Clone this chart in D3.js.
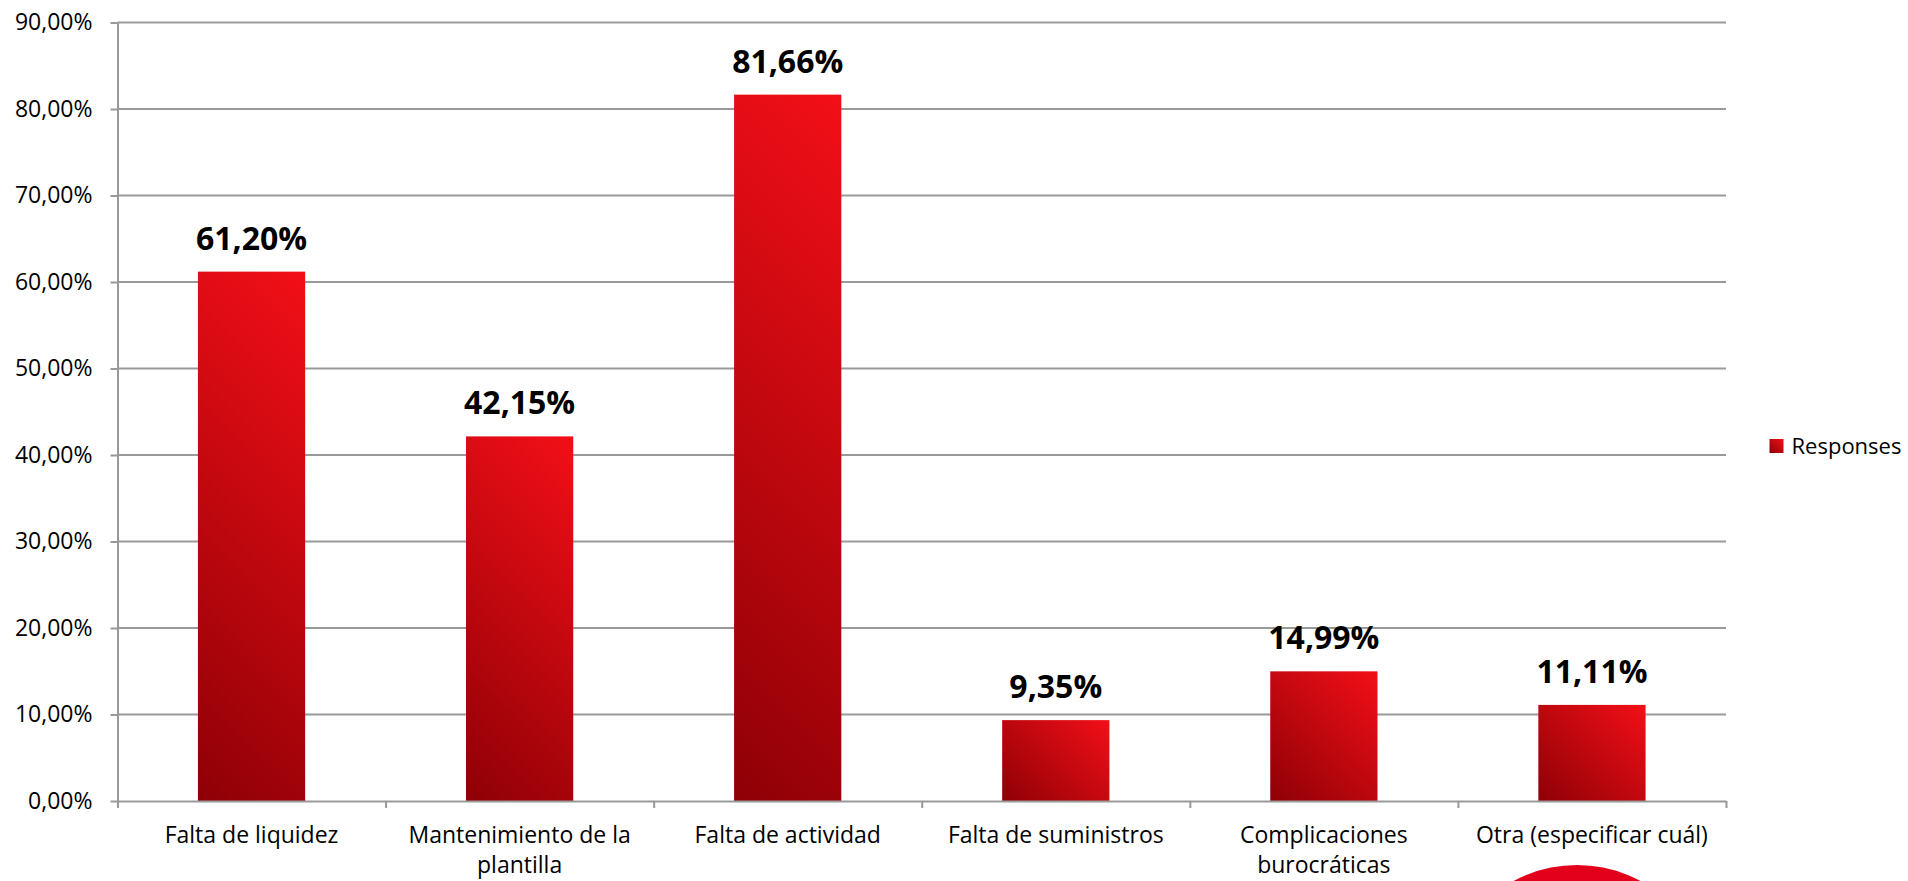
<!DOCTYPE html>
<html>
<head>
<meta charset="utf-8">
<script src="https://cdn.jsdelivr.net/npm/d3@7"></script>
<style>
  html, body { margin: 0; padding: 0; background: #fff; }
  svg { display: block; }
  text { font-family: "Open Sans", "Liberation Sans", sans-serif; fill: #000; }
</style>
</head>
<body>
<svg id="chart" width="1908" height="881"></svg>
<script>
// ---- data ----
const categories = [
  "Falta de liquidez",
  "Mantenimiento de la\nplantilla",
  "Falta de actividad",
  "Falta de suministros",
  "Complicaciones\nburocráticas",
  "Otra (especificar cuál)"
];
const values = [61.20, 42.15, 81.66, 9.35, 14.99, 11.11];
const yTicks = [0, 10, 20, 30, 40, 50, 60, 70, 80, 90];
const seriesName = "Responses";

// ---- layout ----
const W = 1908, H = 881;
const plot = { left: 117.5, right: 1726, top: 22.5, bottom: 801 };
const svg = d3.select("#chart");

const x = d3.scaleBand().domain(categories)
  .range([plot.left, plot.right]).paddingInner(0.6).paddingOuter(0.3);
const xEdges = d3.scaleLinear().domain([0, categories.length]).range([plot.left, plot.right]);
const y = d3.scaleLinear().domain([0, 90]).range([plot.bottom, plot.top]);
const fmt = v => d3.format(".2f")(v).replace(".", ",") + "%";

const gridColor = "#999999";

// gradients
const defs = svg.append("defs");
const c0 = "#8e0006", c1 = "#f30f17";
values.forEach((v, i) => {
  const bx = x(categories[i]), bw = x.bandwidth();
  const h = y(0) - y(v);
  const L = (bw + h) / 2;
  const g = defs.append("linearGradient").attr("id", "grad" + i)
    .attr("gradientUnits", "userSpaceOnUse")
    .attr("x1", bx).attr("y1", y(0))
    .attr("x2", bx + L).attr("y2", y(0) - L);
  g.append("stop").attr("offset", 0).attr("stop-color", c0);
  g.append("stop").attr("offset", 1).attr("stop-color", c1);
});
{
  const g = defs.append("linearGradient").attr("id", "gradLegend")
    .attr("x1", 0).attr("y1", 1).attr("x2", 1).attr("y2", 0);
  g.append("stop").attr("offset", 0).attr("stop-color", c0);
  g.append("stop").attr("offset", 1).attr("stop-color", c1);
}

// gridlines
svg.append("g").selectAll("line").data(yTicks.slice(1)).join("line")
  .attr("x1", plot.left).attr("x2", plot.right)
  .attr("y1", d => y(d)).attr("y2", d => y(d))
  .attr("stroke", gridColor).attr("stroke-width", 2);

// y axis
const yAxis = svg.append("g").attr("transform", `translate(${plot.left},0)`)
  .call(d3.axisLeft(y).tickValues(yTicks).tickFormat(fmt).tickSize(7).tickPadding(18).tickSizeOuter(0));
yAxis.select(".domain").attr("stroke", gridColor).attr("stroke-width", 2);
yAxis.selectAll(".tick line").attr("stroke", gridColor).attr("stroke-width", 2);
yAxis.selectAll(".tick text").attr("font-size", 23).attr("fill", "#000")
  .style("font-family", "'Open Sans', sans-serif");

// bars
svg.append("g").selectAll("rect").data(values).join("rect")
  .attr("x", (d, i) => x(categories[i]))
  .attr("width", x.bandwidth())
  .attr("y", d => y(d))
  .attr("height", d => y(0) - y(d))
  .attr("fill", (d, i) => `url(#grad${i})`);

// x axis
const xAxis = svg.append("g").attr("transform", `translate(0,${plot.bottom})`)
  .call(d3.axisBottom(xEdges).tickValues(d3.range(categories.length + 1)).tickFormat("").tickSize(7).tickSizeOuter(0));
xAxis.select(".domain").attr("stroke", gridColor).attr("stroke-width", 2);
xAxis.selectAll(".tick line").attr("stroke", gridColor).attr("stroke-width", 2);

// category labels
const lab = svg.append("g").selectAll("text").data(categories).join("text")
  .attr("text-anchor", "middle").attr("font-size", 23)
  .attr("x", d => x(d) + x.bandwidth() / 2)
  .attr("y", 843);
lab.each(function(d) {
  const t = d3.select(this);
  const cx = x(d) + x.bandwidth() / 2;
  d.split("\n").forEach((line, k) => {
    t.append("tspan").attr("x", cx).attr("dy", k === 0 ? 0 : 30).text(line);
  });
});

// data labels
svg.append("g").selectAll("text").data(values).join("text")
  .attr("text-anchor", "middle").attr("font-size", 32).attr("font-weight", 700)
  .attr("x", (d, i) => x(categories[i]) + x.bandwidth() / 2)
  .attr("y", d => y(d) - 22)
  .text(d => fmt(d));

// legend
const leg = svg.append("g").attr("transform", "translate(1769.5,439)");
leg.append("rect").attr("width", 14).attr("height", 14).attr("fill", "url(#gradLegend)");
leg.append("text").attr("x", 22).attr("y", 14.5).attr("font-size", 22).text(seriesName);

// decorative red circle at bottom
svg.append("circle").attr("cx", 1577).attr("cy", 999).attr("r", 134).attr("fill", "#e2001a");
</script>
</body>
</html>
